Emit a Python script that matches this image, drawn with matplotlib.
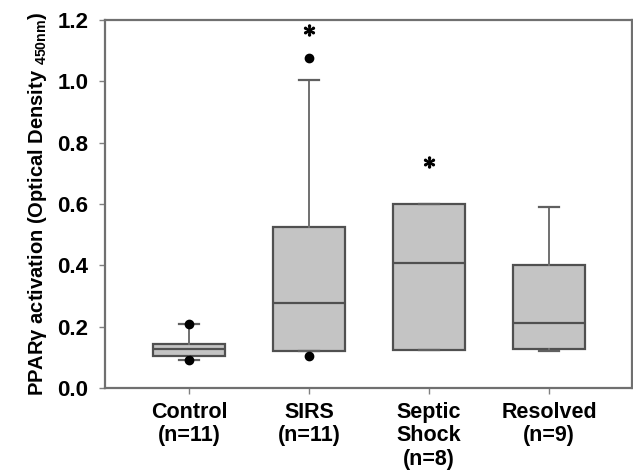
import numpy as np
import matplotlib
matplotlib.use("Agg")
import matplotlib.pyplot as plt

plt.rcParams['font.family'] = ['Liberation Sans', 'DejaVu Sans']
plt.rcParams['mathtext.default'] = 'regular'

groups = ["Control\n(n=11)", "SIRS\n(n=11)", "Septic\nShock\n(n=8)", "Resolved\n(n=9)"]
q1 = [0.105, 0.122, 0.124, 0.126]
medians = [0.128, 0.278, 0.409, 0.213]
q3 = [0.145, 0.525, 0.600, 0.401]
whislo = [0.090, 0.122, 0.124, 0.122]
whishi = [0.210, 1.004, 0.600, 0.591]
outliers = [[0.090, 0.210], [0.105, 1.076], [], []]
star_y = [None, 1.167, 0.738, None]

stats = []
for i in range(len(groups)):
    stats.append(dict(q1=q1[i], med=medians[i], q3=q3[i],
                      whislo=whislo[i], whishi=whishi[i], fliers=outliers[i]))

fig = plt.figure(figsize=(6.33, 4.76), dpi=100)
ax = fig.add_axes([105 / 633, 1 - 388 / 476, 527 / 633, 368 / 476])

edge = '#505050'
pos = np.arange(1, len(groups) + 1)
ax.bxp(stats, positions=pos, widths=0.6, patch_artist=True, showfliers=True,
       boxprops=dict(facecolor='#c4c4c4', edgecolor=edge, linewidth=1.6),
       medianprops=dict(color=edge, linewidth=1.6),
       whiskerprops=dict(color='#707070', linewidth=1.4),
       capprops=dict(color='#606060', linewidth=1.6),
       flierprops=dict(marker='o', markerfacecolor='black', markeredgecolor='black',
                       markersize=6, linestyle='none'),
       capwidths=0.17)

# significance stars
for p, s in zip(pos, star_y):
    if s is not None:
        ax.plot(p, s, marker=r'$\ast$', markersize=8, color='black', linestyle='none')

ax.set_xlim(0.3, 4.69)
ax.set_ylim(0, 1.2)
ax.set_yticks(np.arange(0, 1.21, 0.2))
ax.set_yticklabels([f"{v:.1f}" for v in np.arange(0, 1.21, 0.2)],
                   fontsize=16, fontweight='bold')
ax.set_xticks(pos)
ax.set_xticklabels(groups, fontsize=15.5, fontweight='bold', linespacing=1.15)
ax.tick_params(axis='both', direction='out', length=4, width=1, color='#808080')
ax.tick_params(axis='y', pad=8)
ax.tick_params(axis='x', pad=6)

for sp in ax.spines.values():
    sp.set_color('#707070')
    sp.set_linewidth(1.6)

ax.set_ylabel('PPARγ activation (Optical Density $_{450nm}$)', fontsize=14.5,
              fontweight='bold', labelpad=6)

fig.savefig('out.png', dpi=100)
